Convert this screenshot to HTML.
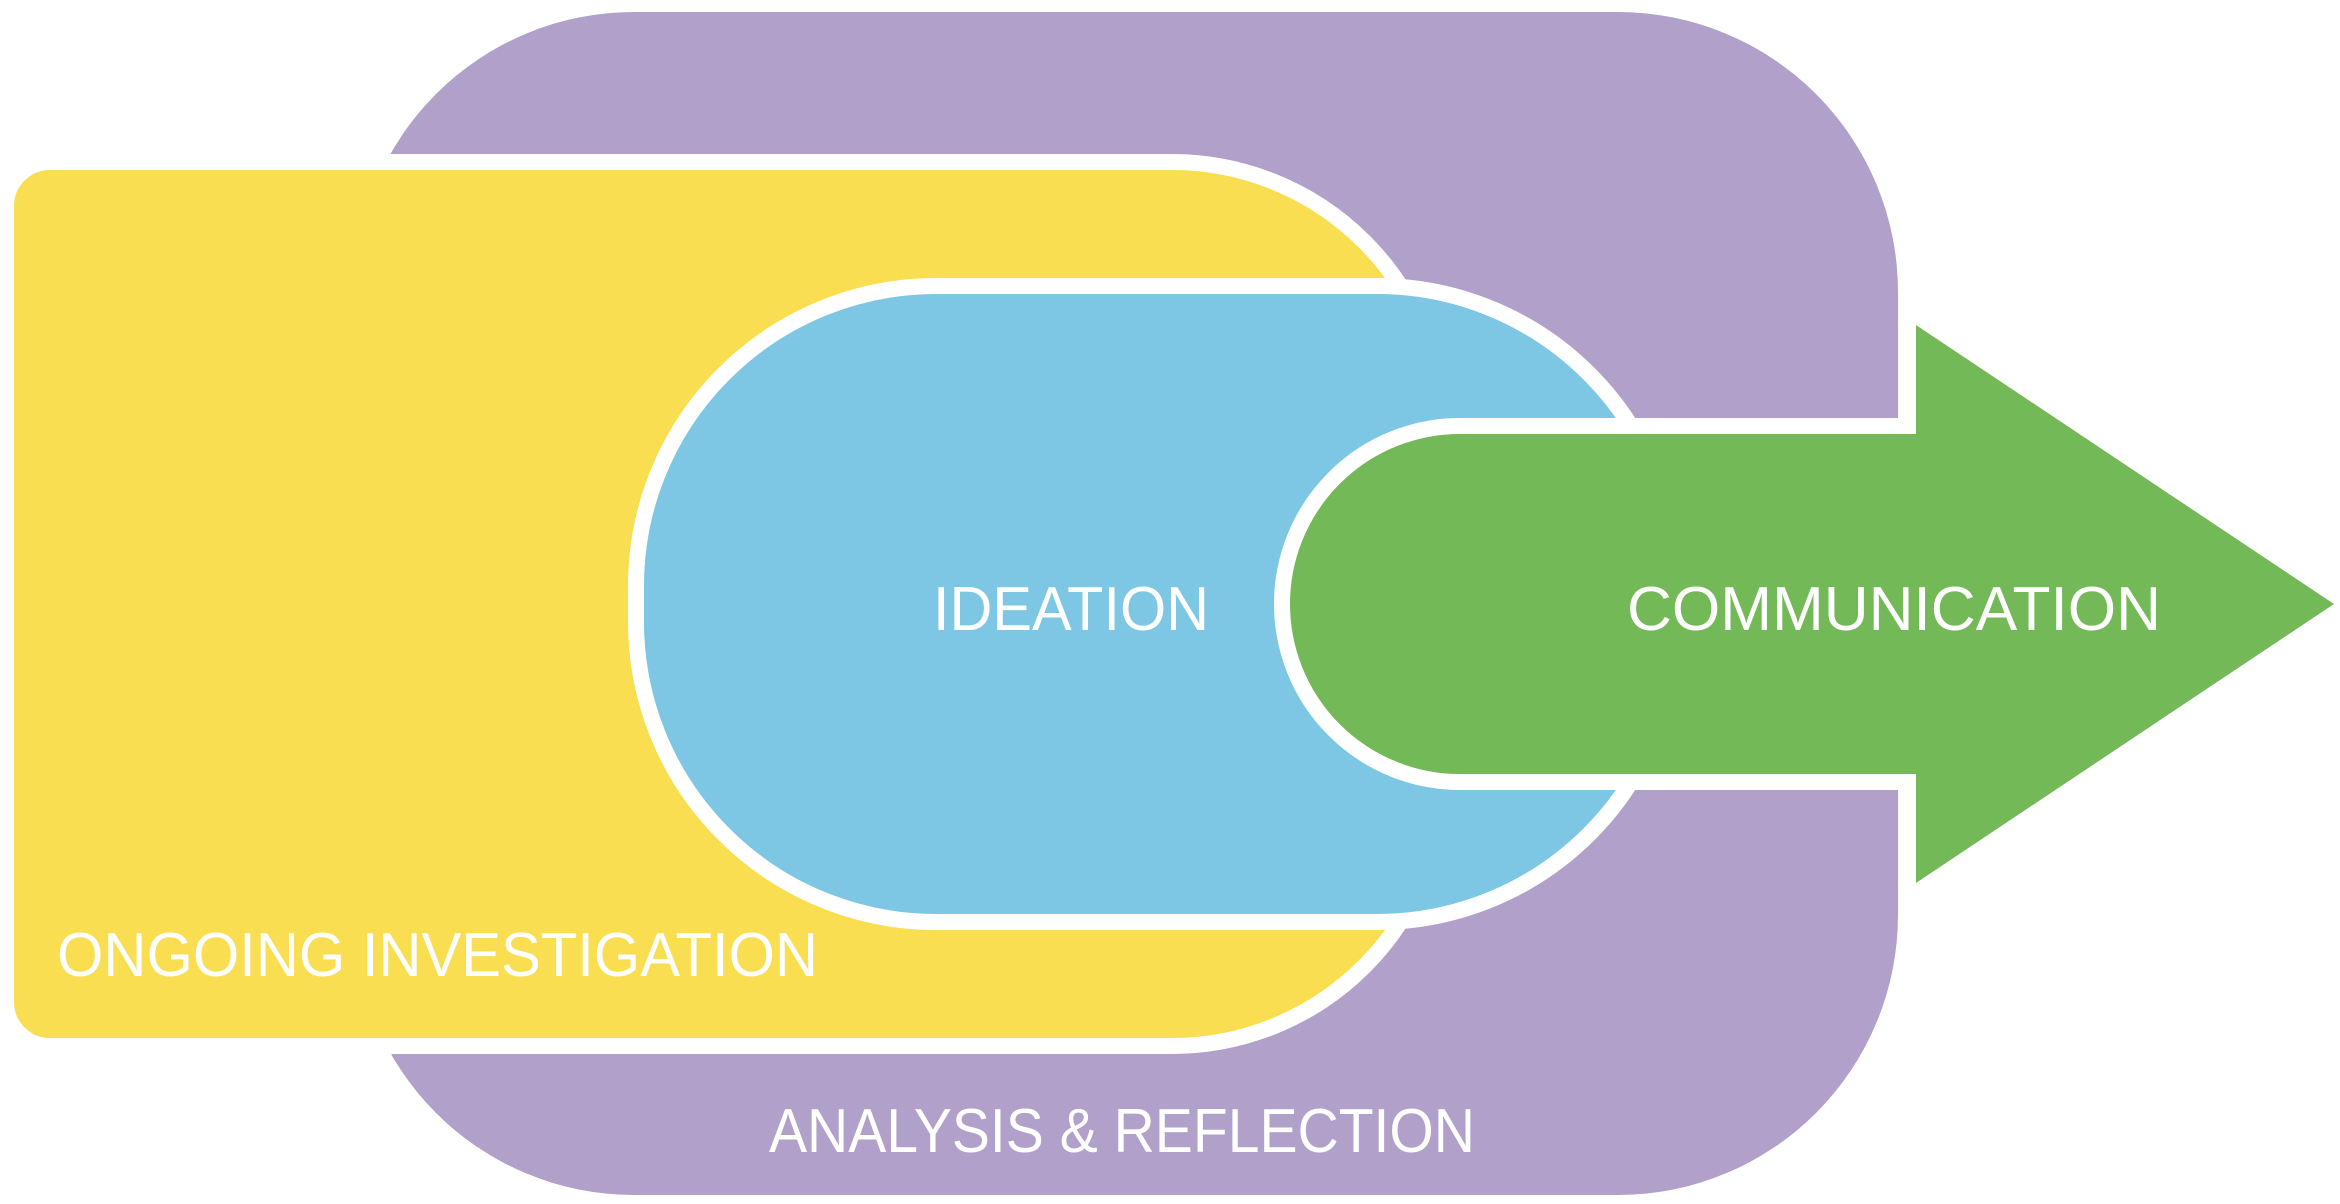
<!DOCTYPE html>
<html><head><meta charset="utf-8"><style>
html,body{margin:0;padding:0;background:#fff;width:2340px;height:1204px;overflow:hidden}
text{font-family:"Liberation Sans",sans-serif;fill:#fff;font-size:62px}
</style></head><body>
<svg width="2340" height="1204" viewBox="0 0 2340 1204" xmlns="http://www.w3.org/2000/svg">
<rect x="354" y="12" width="1544" height="1183" rx="280" ry="280" fill="#b1a0ca"/>
<path d="M50 162 H1172 A272 272 0 0 1 1444 434 V774 A272 272 0 0 1 1172 1046 H50 A44 44 0 0 1 6 1002 V206 A44 44 0 0 1 50 162 Z" fill="#f8de50" stroke="#fff" stroke-width="16"/>
<rect x="636" y="286" width="1041" height="636" rx="300" ry="300" fill="#7ec7e4" stroke="#fff" stroke-width="16"/>
<path d="M1460 426 H1910 V782 H1460 A178 178 0 0 1 1460 426 Z" fill="#74b958" stroke="#fff" stroke-width="16"/>
<polygon points="1916,325 2334,604 1916,883" fill="#74b958"/>
<rect x="1898" y="434" width="22" height="340" fill="#74b958"/>
<text x="933" y="630" textLength="276" lengthAdjust="spacingAndGlyphs">IDEATION</text>
<text x="1627" y="630" textLength="534" lengthAdjust="spacingAndGlyphs">COMMUNICATION</text>
<text x="57" y="976" textLength="761" lengthAdjust="spacingAndGlyphs">ONGOING INVESTIGATION</text>
<text x="769" y="1152" textLength="706" lengthAdjust="spacingAndGlyphs">ANALYSIS &amp; REFLECTION</text>
</svg>
</body></html>
